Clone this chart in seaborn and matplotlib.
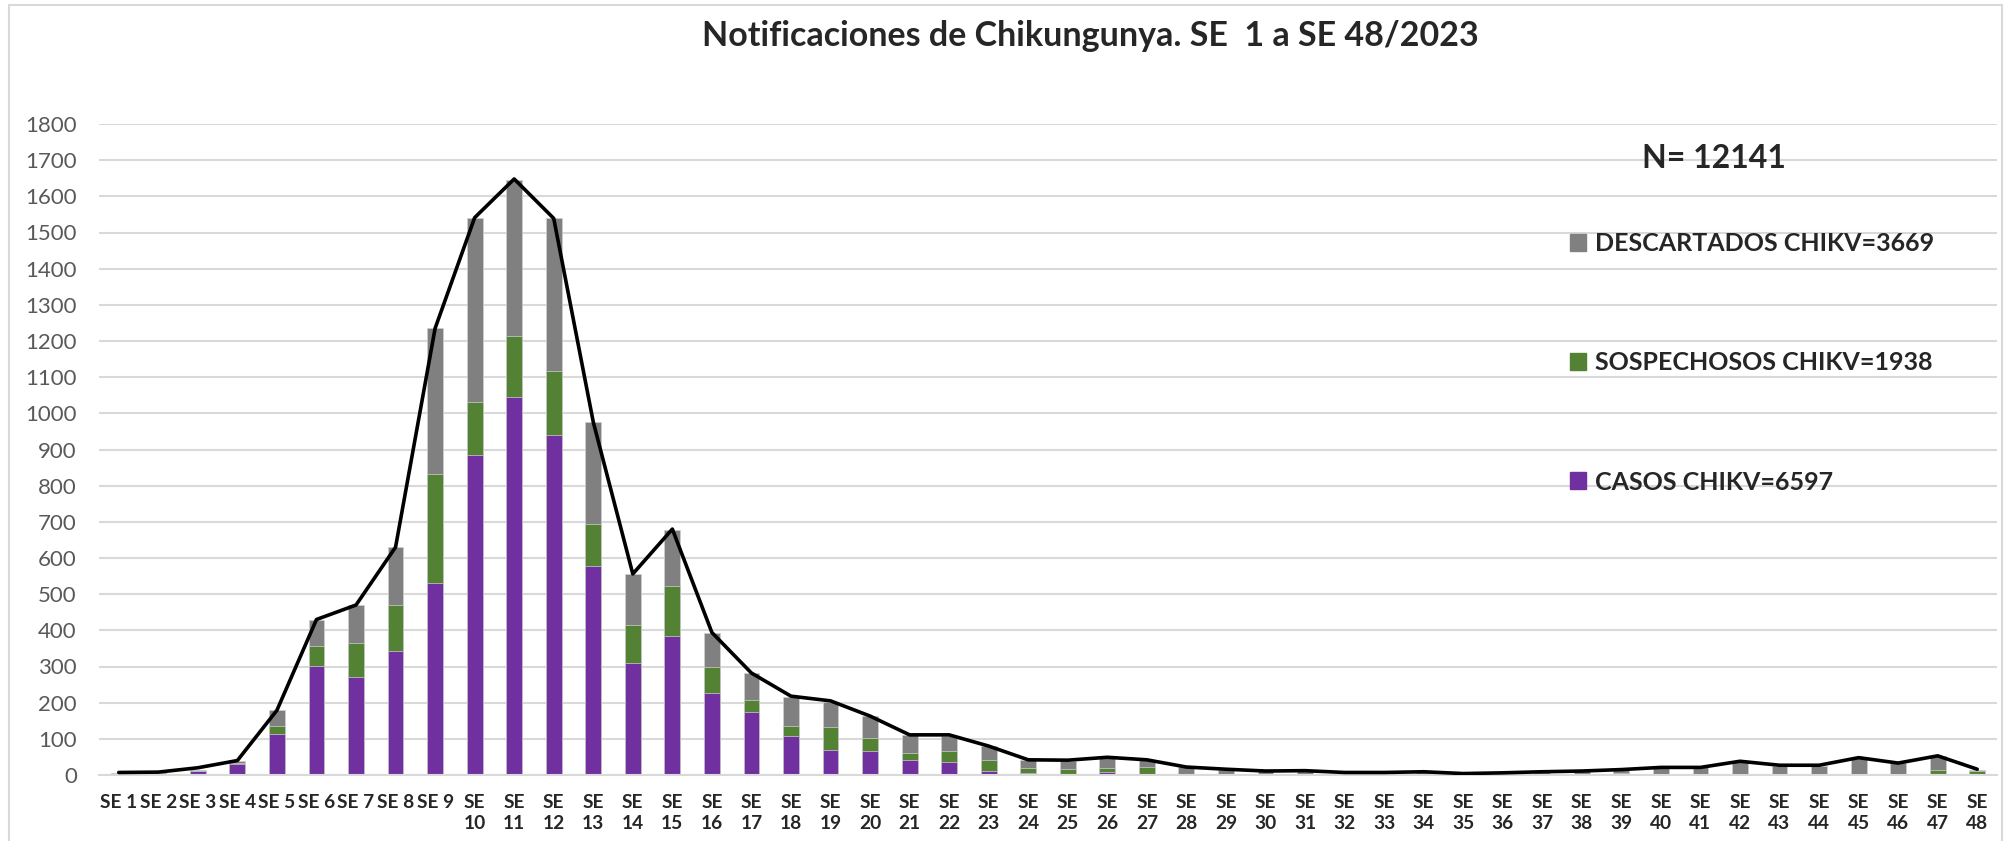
import numpy as np
import matplotlib
matplotlib.use("Agg")
import matplotlib.pyplot as plt
import seaborn as sns
from matplotlib.patches import Patch

# Semanas epidemiologicas
semanas = [f"SE {i}" if i < 10 else f"SE\n{i}" for i in range(1, 49)]

# Valores (apilados: casos abajo, sospechosos, descartados arriba)
casos = [4, 6, 10, 30, 114, 302, 270, 342, 532, 884, 1046, 940, 578, 309, 383, 226,
         175, 109, 68, 65, 41, 36, 11, 6, 3, 8, 4, 0, 0, 0, 0, 0,
         0, 0, 0, 0, 0, 0, 0, 0, 0, 0, 0, 0, 0, 0, 0, 0]
sospechosos = [0, 0, 1, 2, 22, 55, 94, 127, 301, 147, 168, 177, 116, 105, 140, 73,
               33, 27, 66, 37, 19, 29, 31, 12, 13, 11, 18, 4, 1, 4, 1, 0,
               0, 1, 0, 0, 4, 1, 5, 1, 1, 4, 2, 2, 4, 2, 14, 10]
descartados = [2, 2, 2, 6, 43, 72, 105, 161, 402, 510, 432, 422, 282, 142, 155, 93,
               74, 80, 69, 60, 50, 44, 38, 24, 24, 30, 19, 18, 14, 7, 10, 7,
               7, 8, 4, 6, 5, 10, 9, 20, 20, 32, 24, 24, 42, 30, 38, 5]
# linea de total de notificaciones
total_linea = [7, 8, 20, 40, 179, 430, 470, 630, 1235, 1541, 1648, 1539, 976, 556, 680, 394,
               282, 218, 205, 163, 111, 111, 80, 42, 41, 49, 42, 22, 16, 11, 12, 7,
               7, 9, 4, 6, 9, 11, 15, 21, 21, 38, 27, 27, 48, 33, 53, 16]

etiquetas = ["DESCARTADOS CHIKV=3669", "SOSPECHOSOS CHIKV=1938", "CASOS CHIKV=6597"]
titulo = "Notificaciones de Chikungunya. SE  1 a SE 48/2023"
n_total = "N= 12141"

c_casos = "#7030A0"
c_sosp = "#548235"
c_desc = "#808080"

sns.set_style("white")
plt.rcParams["font.family"] = ["Lato", "DejaVu Sans"]

fig = plt.figure(figsize=(20.08, 8.41), dpi=100)
ax = fig.add_axes([99 / 2008, 66 / 841, (1997 - 99) / 2008, (775 - 124) / 841])

casos_a = np.array(casos)
sosp_top = casos_a + np.array(sospechosos)
desc_top = sosp_top + np.array(descartados)

# stacked bars drawn back to front
sns.barplot(x=semanas, y=desc_top, color=c_desc, saturation=1, width=0.4,
            edgecolor="#d0d0d0", linewidth=0.5, ax=ax)
sns.barplot(x=semanas, y=sosp_top, color=c_sosp, saturation=1, width=0.4,
            edgecolor="#d0d0d0", linewidth=0.5, ax=ax)
sns.barplot(x=semanas, y=casos_a, color=c_casos, saturation=1, width=0.4,
            edgecolor="#d0d0d0", linewidth=0.5, ax=ax)

ax.plot(np.arange(len(semanas)), total_linea, color="black", lw=2.6, zorder=5)

ax.set_xlim(-0.5, len(semanas) - 0.5)
ax.set_ylim(0, 1800)
ax.set_yticks(np.arange(0, 1801, 100))
ax.yaxis.grid(True, color="#d9d9d9", lw=1.5)
ax.set_axisbelow(True)
for s in ["top", "right", "left"]:
    ax.spines[s].set_visible(False)
ax.spines["bottom"].set_color("#d9d9d9")
ax.spines["bottom"].set_linewidth(1.5)
ax.tick_params(axis="both", length=0)
ax.tick_params(axis="y", pad=16, labelsize=16, labelcolor="#595959")
ax.tick_params(axis="x", pad=14, labelsize=13.8)
for lab in ax.get_xticklabels():
    lab.set_fontweight("bold")
    lab.set_linespacing(1.22)
ax.set_xlabel("")
ax.set_ylabel("")

fig.text(1090 / 2008, 1 - 36 / 841, titulo, ha="center", va="center",
         fontsize=24.5, fontweight="bold")
fig.text(1714 / 2008, 1 - 158 / 841, n_total, ha="center", va="center",
         fontsize=23, fontweight="bold")

handles = [Patch(color=c_desc), Patch(color=c_sosp), Patch(color=c_casos)]
leg = fig.legend(handles, etiquetas, loc="upper left",
                 bbox_to_anchor=(1570 / 2008, 1 - 232 / 841), frameon=False,
                 prop={"weight": "bold", "size": 18}, handlelength=0.65,
                 handleheight=0.65, handletextpad=0.35, labelspacing=3.85,
                 borderaxespad=0, borderpad=0)

# chart border like the Excel frame
fig.add_artist(plt.Line2D([9 / 2008, 9 / 2008], [0, 1 - 5 / 841], color="#d9d9d9", lw=1.5))
fig.add_artist(plt.Line2D([9 / 2008, 2002 / 2008], [1 - 5 / 841, 1 - 5 / 841], color="#d9d9d9", lw=1.5))
fig.add_artist(plt.Line2D([2002 / 2008, 2002 / 2008], [0, 1 - 5 / 841], color="#d9d9d9", lw=1.5))

fig.savefig("out.png", dpi=100)
